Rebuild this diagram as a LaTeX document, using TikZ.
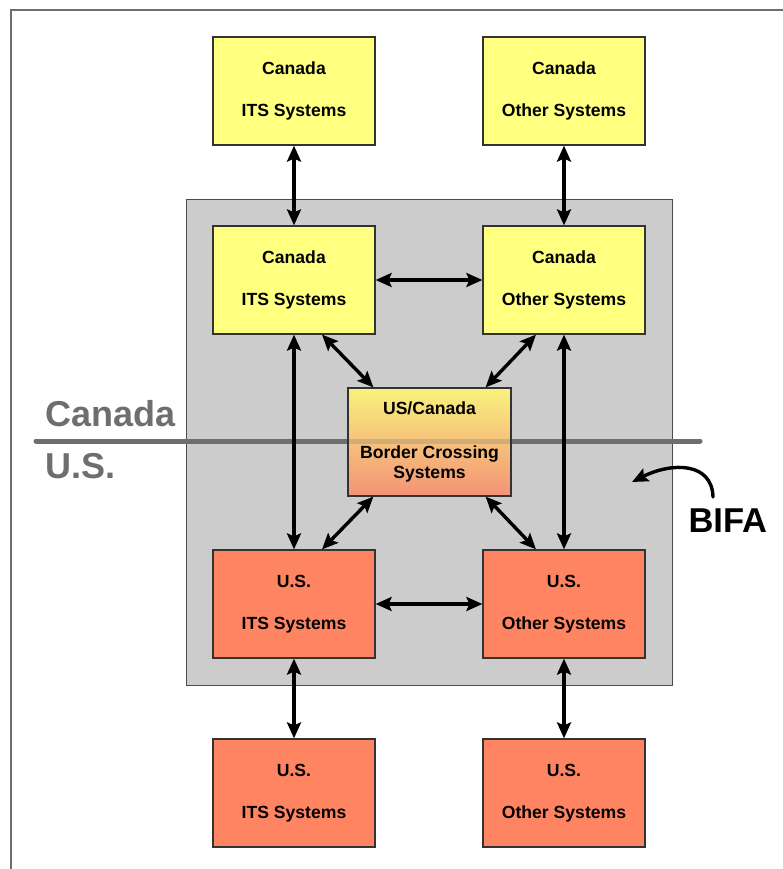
\documentclass[tikz,border=0pt]{standalone}
\usepackage{fontspec}
\setmainfont{Liberation Sans}
\usetikzlibrary{arrows.meta,calc}
\definecolor{boxyellow}{HTML}{FFFF80}
\definecolor{boxsalmon}{HTML}{FF8562}
\definecolor{bifagray}{HTML}{CCCCCC}
\definecolor{linegray}{HTML}{6E6E6E}
\definecolor{gradtop}{HTML}{F8F27E}
\definecolor{gradbot}{HTML}{F49276}
\begin{document}
\begin{tikzpicture}[x=1pt,y=-1pt,
  sysbox/.style={draw=black!80,line width=1.2pt,minimum width=162pt,minimum height=108pt,
    inner sep=0pt,align=center,font=\fontsize{17.6}{42}\selectfont\bfseries},
  canbox/.style={sysbox,fill=boxyellow},
  usbox/.style={sysbox,fill=boxsalmon},
  tip/.tip={Stealth[length=16pt,width=14pt,inset=3pt]},
  link/.style={line width=3.4pt,tip-tip},
  bigtext/.style={font=\fontsize{36}{40}\selectfont\bfseries,anchor=base west}]
\useasboundingbox (0,0) rectangle (783,869);
% frame
\draw[linegray,line width=2pt] (783,10) -- (11,10) -- (11,869);
% BIFA area
\node[draw=black!70,line width=1pt,fill=bifagray,minimum width=486pt,minimum height=486pt,inner sep=0pt] (bifa) at (429,442) {};
% border line
\draw[linegray,line width=5pt,line cap=round] (36,441) -- (700,441);
% boxes
\node[canbox] (cits) at (294,91) {Canada\\ITS Systems};
\node[canbox] (coth) at (564,91) {Canada\\Other Systems};
\node[canbox] (iits) at (294,280) {Canada\\ITS Systems};
\node[canbox] (ioth) at (564,280) {Canada\\Other Systems};
\node[draw=black!80,line width=1.2pt,minimum width=163pt,minimum height=108pt,inner sep=0pt,
  top color=gradtop,bottom color=gradbot,align=center,
  font=\fontsize{17.6}{20}\selectfont\bfseries] (bc) at (429.5,442) {US/Canada\\[24pt]Border Crossing\\Systems};
\fill[linegray,opacity=0.25] (349,438.5) rectangle (510,443.5);
\node[usbox] (uits) at (294,604) {U.S.\\ITS Systems};
\node[usbox] (uoth) at (564,604) {U.S.\\Other Systems};
\node[usbox] (bits) at (294,793) {U.S.\\ITS Systems};
\node[usbox] (both) at (564,793) {U.S.\\Other Systems};
% connectors
\draw[link] (cits.south) -- (iits.north);
\draw[link] (coth.south) -- (ioth.north);
\draw[link] (iits.east) -- (ioth.west);
\draw[link] (iits.south) -- (uits.north);
\draw[link] (ioth.south) -- (uoth.north);
\draw[link] (uits.east) -- (uoth.west);
\draw[link] (uits.south) -- (bits.north);
\draw[link] (uoth.south) -- (both.north);
\draw[link] ([xshift=28pt]iits.south) -- ([xshift=26pt]bc.north west);
\draw[link] ([xshift=-28pt]ioth.south) -- ([xshift=-26pt]bc.north east);
\draw[link] ([xshift=26pt]bc.south west) -- ([xshift=28pt]uits.north);
\draw[link] ([xshift=-26pt]bc.south east) -- ([xshift=-28pt]uoth.north);
% labels
\node[bigtext,text=linegray] (lcan) at (42,426) {Canada};
\node[bigtext,text=linegray] (lus) at (42,478) {U.S.};
\node[font=\fontsize{34.5}{40}\selectfont\bfseries,anchor=base west] (lbifa) at (685,532) {BIFA};
\coordinate (bifatip) at (632,482);
\draw[line width=3.4pt,line cap=round,-tip] (713,497) .. controls (712,462) and (672,462) .. (bifatip);
\end{tikzpicture}
\end{document}
